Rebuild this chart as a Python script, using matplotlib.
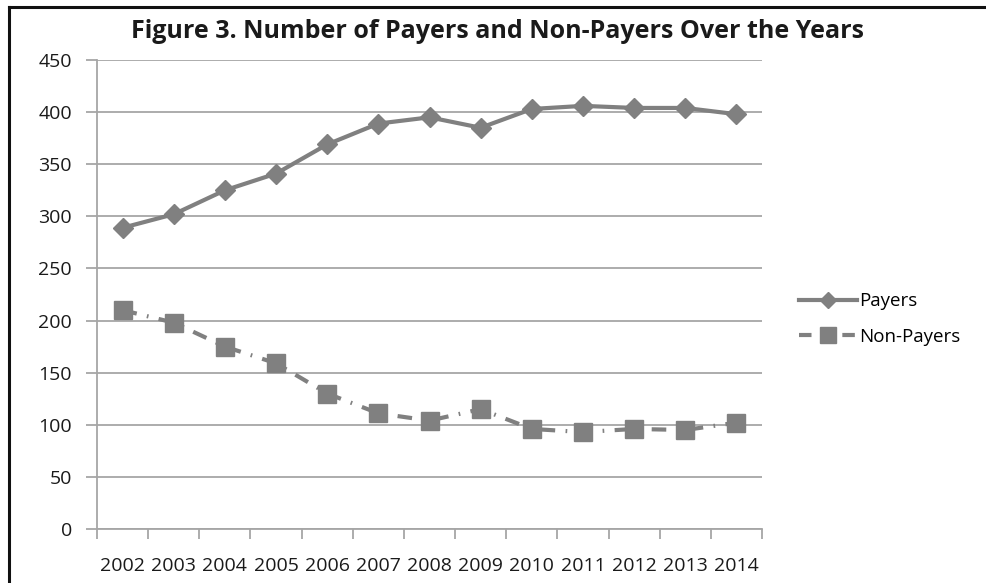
import matplotlib.pyplot as plt
from matplotlib.lines import Line2D
from matplotlib.ticker import FixedLocator, NullFormatter

years = ["2002", "2003", "2004", "2005", "2006", "2007", "2008",
         "2009", "2010", "2011", "2012", "2013", "2014"]
payers = [289, 302, 325, 341, 369, 389, 395, 385, 403, 406, 404, 404, 398]
non_payers = [210, 198, 175, 159, 130, 111, 104, 115, 96, 93, 96, 95, 102]
y_ticks = [0, 50, 100, 150, 200, 250, 300, 350, 400, 450]

LINE = "#808080"
GRID = "#a6a6a6"
TEXT = "#1a1a1a"
FONT = ["Open Sans", "DejaVu Sans"]

fig = plt.figure(figsize=(9.87, 5.83), dpi=100)
W, H = 987, 583

# plot area in pixel coordinates
left, right, top, bottom = 97, 762, 60, 529
ax = fig.add_axes([left / W, 1 - bottom / H, (right - left) / W, (bottom - top) / H])

x = list(range(len(years)))
ax.plot(x, payers, color=LINE, lw=3, marker="D", ms=10, mec=LINE, mfc=LINE,
        zorder=3, solid_capstyle="round")
ax.plot(x, non_payers, color=LINE, lw=3, marker="s", ms=13, mec=LINE, mfc=LINE,
        dashes=(3.5, 2.5, 0.4, 2.5), zorder=3)

ax.set_xlim(-0.5, len(years) - 0.5)
ax.set_ylim(0, 450)
ax.set_yticks(y_ticks)
ax.yaxis.grid(True, color=GRID, lw=1.3)
ax.set_axisbelow(True)

# category labels sit between boundary tick marks
ax.set_xticks(x)
ax.set_xticklabels(years)
ax.tick_params(axis="x", which="major", length=0, pad=20)
ax.xaxis.set_minor_locator(FixedLocator([i - 0.5 for i in range(len(years) + 1)]))
ax.xaxis.set_minor_formatter(NullFormatter())
ax.tick_params(axis="x", which="minor", length=7, width=1.3, color=GRID)
ax.tick_params(axis="y", length=8, width=1.3, color=GRID, pad=10)

for lab in ax.get_xticklabels() + ax.get_yticklabels():
    lab.set_family(FONT)
    lab.set_fontsize(14)
    lab.set_color(TEXT)

for side in ("top", "right"):
    ax.spines[side].set_visible(False)
for side in ("left", "bottom"):
    ax.spines[side].set_color(GRID)
    ax.spines[side].set_linewidth(1.3)

fig.text(498 / W, 1 - 32 / H, "Figure 3. Number of Payers and Non-Payers Over the Years",
         ha="center", va="center", fontsize=18, fontweight="bold",
         family=FONT, color=TEXT)

handles = [
    Line2D([], [], color=LINE, lw=3, marker="D", ms=8),
    Line2D([], [], color=LINE, lw=3, marker="s", ms=11, dashes=(3, 2.2)),
]
fig.legend(handles, ["Payers", "Non-Payers"], loc="center left",
           bbox_to_anchor=(782 / W, 1 - 319 / H), frameon=False,
           handlelength=3.1, handletextpad=0.1, labelspacing=0.95,
           prop={"family": FONT, "size": 13.5})

# outer frame of the figure
fig.add_artist(Line2D([9 / W, 9 / W], [0, 1 - 7 / H], color="#111111", lw=2.2,
                      transform=fig.transFigure))
fig.add_artist(Line2D([9 / W, 1], [1 - 7 / H, 1 - 7 / H], color="#111111", lw=2.2,
                      transform=fig.transFigure))

fig.savefig("out.png", dpi=100)
